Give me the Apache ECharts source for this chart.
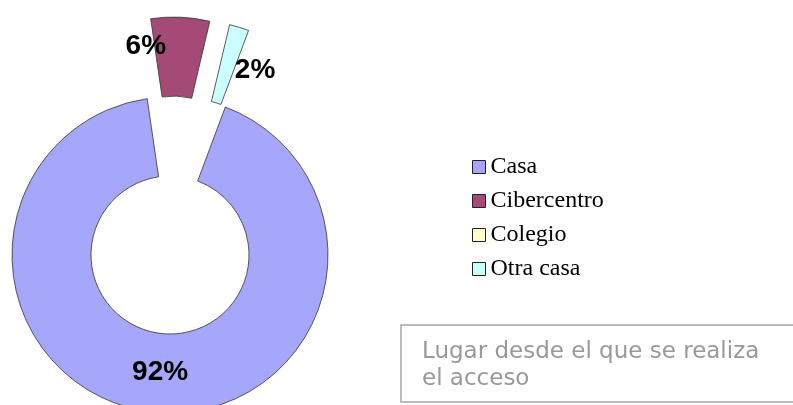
<!DOCTYPE html>
<html>
<head>
<meta charset="utf-8">
<script src="https://cdn.jsdelivr.net/npm/echarts@6/dist/echarts.min.js"></script>
<style>
  html, body { margin: 0; padding: 0; background: #fff; }
  #chart { width: 793px; height: 405px; }
</style>
</head>
<body>
<div id="chart"></div>
<script>
// datos del gráfico
var lugares = ["Casa", "Cibercentro", "Colegio", "Otra casa"];
var porcentajes = [92, 6, 0, 2];
var colores = ["#a6a6fb", "#a54a76", "#ffffcc", "#ccffff"];
var separados = [false, true, false, true];
var tituloTexto = "Lugar desde el que se realiza\nel acceso";

// desplazamiento de las etiquetas (dx, dy) respecto a su posición interior
var etiquetaDesp = [[3, -3.5], [-33, -7], [0, 0], [26.5, 8]];

var chart = echarts.init(document.getElementById("chart"));

var datos = lugares.map(function (nombre, i) {
  return {
    name: nombre,
    value: porcentajes[i],
    selected: separados[i],
    itemStyle: { color: colores[i], borderWidth: porcentajes[i] > 0 ? 0.8 : 0 }
  };
});

chart.setOption({
  animation: false,
  title: {
    text: tituloTexto,
    left: 401,
    top: 325,
    padding: [14, 80, 9, 21],
    borderColor: "#a6a6a6",
    borderWidth: 1.5,
    textStyle: {
      fontFamily: "DejaVu Sans",
      fontSize: 23,
      fontWeight: "normal",
      color: "#999999",
      lineHeight: 27
    }
  },
  legend: {
    orient: "vertical",
    left: 472,
    top: 155,
    padding: 0,
    icon: "rect",
    itemWidth: 13,
    itemHeight: 13,
    itemGap: 10,
    selectedMode: false,
    itemStyle: { borderColor: "#222", borderWidth: 1 },
    textStyle: {
      fontFamily: "Liberation Serif",
      fontSize: 24,
      color: "#000"
    },
    data: lugares
  },
  series: [{
    type: "pie",
    center: [170, 255],
    radius: [79, 158],
    startAngle: 69.5,
    selectedMode: "multiple",
    selectedOffset: 80,
    emphasis: { disabled: true },
    itemStyle: { borderColor: "#333", borderWidth: 0.8 },
    label: {
      position: "inside",
      color: "#000",
      fontFamily: "Liberation Sans",
      fontWeight: "bold",
      fontSize: 28,
      formatter: function (p) {
        return p.value > 0 ? p.value + "%" : "";
      }
    },
    labelLayout: function (p) {
      var d = etiquetaDesp[p.dataIndex];
      return { dx: d[0], dy: d[1] };
    },
    labelLine: { show: false },
    data: datos
  }]
});
</script>
</body>
</html>
